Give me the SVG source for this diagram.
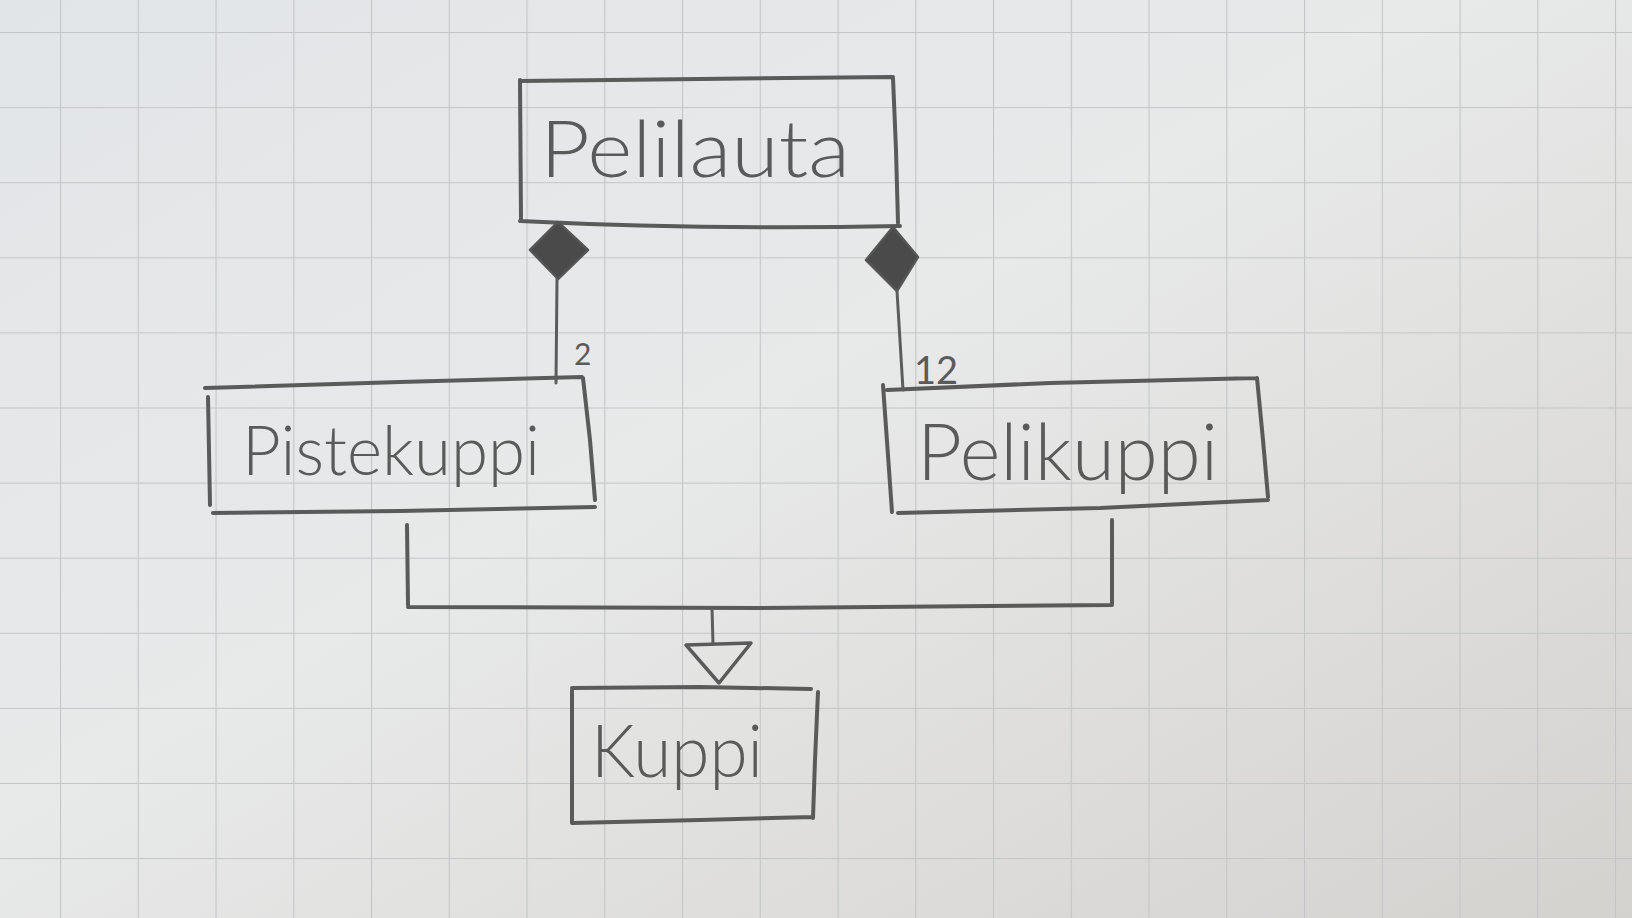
<svg xmlns="http://www.w3.org/2000/svg" width="1632" height="918" viewBox="0 0 1632 918">
  <defs>
    <linearGradient id="paper" x1="0" y1="0" x2="1" y2="1">
      <stop offset="0" stop-color="#e2e5e8"/>
      <stop offset="0.45" stop-color="#e8e9e9"/>
      <stop offset="1" stop-color="#d4d2cf"/>
    </linearGradient>
    <pattern id="grid" patternUnits="userSpaceOnUse" x="60" y="32" width="77.75" height="75.1">
      <path d="M0 0 H77.75 M0 0 V75.1" fill="none" stroke="#c3c5c6" stroke-width="2.2"/>
    </pattern>
    <style>
      .pen { fill: none; stroke: #5a5a5a; stroke-width: 4; stroke-linecap: round; stroke-linejoin: round; }
      .thin { fill: none; stroke: #5c5c5c; stroke-width: 3; stroke-linecap: round; stroke-linejoin: round; }
      .solid { fill: #4a4a4a; stroke: #555; stroke-width: 2.5; stroke-linejoin: round; }
      .hollow { fill: none; stroke: #5a5a5a; stroke-width: 3.5; stroke-linejoin: round; }
      .label { font-family: "Lato", "Open Sans", "Liberation Sans", sans-serif; font-weight: 300; fill: #5a5a5a; }
      .mult { font-family: "Lato", "Open Sans", "Liberation Sans", sans-serif; font-weight: 400; fill: #5a5a5a; }
    </style>
  </defs>

  <rect x="0" y="0" width="1632" height="918" fill="url(#paper)"/>
  <rect x="0" y="0" width="1632" height="918" fill="url(#grid)"/>

  <g id="Pelilauta">
    <path class="pen" d="M520 81 L700 79 L893 77 M893 78 L896 150 L898 223 M520 221 Q700 230 900 226 M520 80 L521 220"/>
    <text class="label" x="540" y="177" font-size="78" textLength="310" lengthAdjust="spacingAndGlyphs">Pelilauta</text>
  </g>

  <g id="Pistekuppi">
    <path class="pen" d="M205 388 L400 382 L582 377 M583 378 L590 440 L595 500 M213 513 L400 511 L595 507 M208 397 L210 505"/>
    <text class="label" x="242" y="475" font-size="68" textLength="298" lengthAdjust="spacingAndGlyphs">Pistekuppi</text>
  </g>

  <g id="Pelikuppi">
    <path class="pen" d="M887 390 L1050 383 L1257 378 M1257 378 L1263 440 L1268 497 M898 513 L1100 508 L1268 500 M883 385 L892 512"/>
    <text class="label" x="917" y="480" font-size="78" textLength="301" lengthAdjust="spacingAndGlyphs">Pelikuppi</text>
  </g>

  <g id="Kuppi">
    <path class="pen" d="M572 688 L700 687 L811 689 M818 692 L815 760 L813 818 M572 823 L700 820 L813 817 M572 690 L572 823"/>
    <text class="label" x="591" y="777" font-size="72" textLength="172" lengthAdjust="spacingAndGlyphs">Kuppi</text>
  </g>

  <g id="connectors">
    <path class="solid" d="M558 222 L588 250 L558 279 L530 250 Z"/>
    <path class="thin" d="M557 279 L556 383"/>
    <text class="mult" x="574" y="365" font-size="30">2</text>
    <path class="solid" d="M893 227 L918 257 L897 291 L866 260 Z"/>
    <path class="thin" d="M897 291 L903 390"/>
    <text class="mult" x="914" y="384" font-size="38">12</text>
    <path class="pen" d="M407 525 L408 605 M408 607 L760 608 L1112 605 M1112 520 L1112 604"/>
    <path class="thin" d="M712 608 L713 644"/>
    <path class="hollow" d="M686 645 L751 643 L719 683 Z"/>
  </g>
</svg>
